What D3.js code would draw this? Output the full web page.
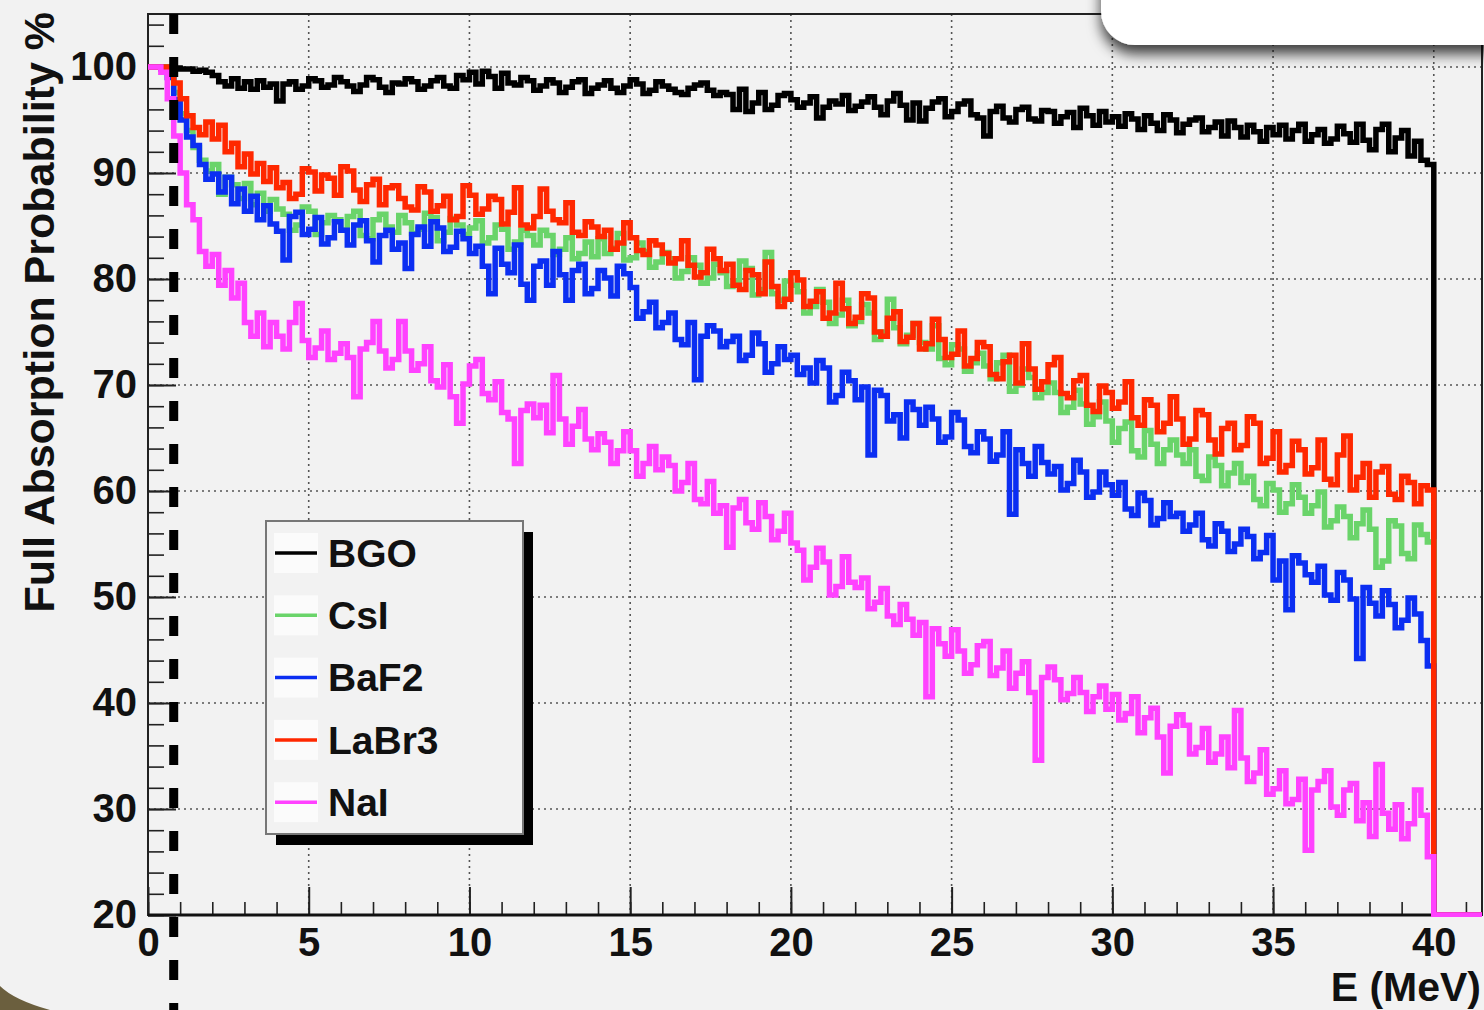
<!DOCTYPE html>
<html>
<head>
<meta charset="utf-8">
<script src="https://cdn.jsdelivr.net/npm/d3@7"></script>
<style>
  body { margin: 0; background: #f2f2f2; }
  text { font-family: "Liberation Sans", Arial, Helvetica, sans-serif; font-weight: bold; fill: #111; }
</style>
</head>
<body>
<script>
// histogram bins: 0.2 MeV wide, 0 -> 40 MeV (200 bins per detector)
var binWidth = 0.2;

var bgo = [
  100, 100, 100, 100, 99.9, 99.8, 99.8, 99.6, 99.7, 99.5,
  99.2, 98.6, 98.2, 98.9, 98.0, 98.6, 97.9, 98.7, 98.1, 98.4,
  96.8, 98.4, 98.6, 97.9, 98.2, 98.9, 98.7, 98.1, 98.3, 99.0,
  98.6, 98.2, 97.7, 98.3, 99.0, 98.8, 98.1, 97.6, 98.5, 98.4,
  98.9, 98.6, 97.9, 98.2, 98.7, 99.0, 98.2, 98.0, 99.2, 98.8,
  99.5, 98.4, 99.6, 99.1, 98.0, 99.4, 98.5, 98.3, 99.0, 98.7,
  97.8, 98.2, 98.8, 98.5, 97.6, 98.1, 98.6, 98.8, 97.5, 98.0,
  98.3, 98.7, 98.0, 97.6, 98.2, 98.8, 98.4, 97.5, 97.8, 98.6,
  98.2, 97.9, 97.6, 97.4, 98.0, 98.3, 98.5, 97.8, 97.3, 97.6,
  97.4, 96.0, 97.9, 95.8, 96.6, 97.6, 96.0, 96.4, 97.3, 97.5,
  96.9, 96.2, 96.6, 97.2, 95.2, 96.2, 96.8, 96.5, 97.3, 95.9,
  96.3, 96.7, 97.2, 96.2, 95.5, 96.8, 97.5, 96.4, 95.0, 96.6,
  94.9, 96.1, 96.7, 97.0, 95.3, 95.8, 96.5, 96.8, 95.5, 95.2,
  93.5, 95.8, 96.3, 95.2, 94.8, 96.0, 96.2, 95.1, 94.9, 95.9,
  95.8, 94.7, 95.3, 95.7, 94.3, 96.1, 95.4, 94.5, 95.8, 94.8,
  95.3, 94.4, 95.6, 95.1, 94.1, 95.4, 94.7, 94.0, 95.5, 95.0,
  93.8, 94.6, 95.0, 95.2, 93.9, 94.3, 94.8, 93.5, 94.9, 94.3,
  93.4, 94.5, 93.9, 93.0, 94.3, 93.6, 94.5, 93.2, 94.0, 94.6,
  93.0, 93.6, 94.1, 92.8, 93.2, 94.4, 93.7, 92.9, 94.6, 93.1,
  92.2, 94.1, 94.6, 92.0, 93.3, 94.0, 91.6, 93.0, 91.2, 90.8
];

var csi = [
  100, 100, 100, 99.6, 97.6, 95.6, 94.0, 92.4, 91.2, 90.2,
  90.8, 88.0, 89.6, 88.9, 87.6, 89.0, 87.0, 88.1, 86.4, 87.5,
  86.6, 86.1, 84.6, 85.1, 86.8, 86.4, 84.2, 85.3, 86.0, 85.6,
  84.6, 85.9, 86.4, 84.1, 83.8, 85.6, 86.1, 84.9, 84.4, 86.0,
  85.3, 84.3, 84.7, 86.2, 85.8, 83.6, 84.4, 85.7, 85.1, 84.2,
  84.8, 85.5, 83.4, 83.9, 85.1, 84.7, 82.8, 83.5, 84.6, 84.1,
  83.2, 84.6, 84.1, 82.3, 82.8, 83.9, 81.9, 82.4, 83.5, 82.1,
  83.8, 82.4, 82.9, 84.3, 81.8, 82.0, 83.4, 82.6, 81.1, 81.6,
  82.5, 81.9, 80.1, 80.7, 82.0, 81.3, 79.6, 80.1, 81.4, 80.6,
  79.3, 79.8, 81.7, 81.0, 78.5, 79.0, 82.5, 78.6, 78.0, 79.8,
  79.4, 78.8, 76.8, 77.4, 79.0, 77.8, 75.8, 76.6, 78.0, 75.6,
  76.0, 77.6, 76.8, 74.3, 75.0, 78.1, 75.4, 73.9, 74.7, 75.8,
  74.0, 73.4, 75.6, 72.5, 71.9, 73.8, 73.4, 71.3, 72.1, 73.0,
  71.8, 70.6, 72.1, 72.8, 69.4, 70.0, 71.5, 70.7, 68.8, 69.3,
  70.2, 69.3, 67.4, 67.9, 69.5, 68.2, 66.3, 67.0, 68.4, 66.6,
  64.6, 65.9, 66.5, 63.8, 63.2, 65.7, 64.4, 62.6, 63.9, 64.8,
  63.4, 62.6, 63.9, 61.4, 61.0, 63.2, 62.4, 60.5, 61.7, 62.6,
  60.8, 61.4, 59.2, 58.6, 60.7, 60.1, 58.0, 58.8, 60.6, 59.4,
  57.9, 58.6, 59.9, 56.6, 57.2, 58.5, 57.6, 55.6, 56.9, 58.2,
  56.4, 52.8, 53.4, 57.2, 56.7, 54.1, 53.6, 56.8, 55.9, 55.2
];

var baf2 = [
  100, 100, 99.8, 99.0, 96.9, 95.0, 93.4, 92.6, 90.8, 89.4,
  89.9, 88.2, 89.6, 87.1, 88.5, 86.4, 87.8, 85.6, 86.9, 85.2,
  84.5, 81.8, 85.9, 86.3, 84.2, 84.7, 85.8, 83.3, 83.9, 85.4,
  84.6, 83.2, 85.1, 85.5, 83.6, 81.6, 84.1, 84.6, 82.8, 83.4,
  81.0, 84.2, 84.9, 83.1, 85.4, 84.8, 82.6, 83.0, 84.5, 83.8,
  82.4, 83.1, 81.2, 78.6, 82.9, 81.4, 80.6, 83.2, 79.5, 78.0,
  81.2, 81.7, 79.4, 82.6, 80.4, 78.0, 80.8, 81.4, 78.6, 79.1,
  80.8, 80.1, 78.4, 81.2, 80.5, 79.2, 76.3, 76.9, 77.8, 75.4,
  75.9, 76.8, 74.3, 73.8, 75.9, 70.5, 74.6, 75.6, 75.1, 73.6,
  74.1, 74.6, 72.3, 72.8, 74.9, 73.9, 71.2, 72.0, 73.6, 72.4,
  72.8, 71.0, 71.6, 70.2, 72.3, 71.6, 68.4, 69.0, 71.2, 70.4,
  68.6, 69.8, 63.4, 69.5, 69.0, 66.6, 67.2, 65.0, 68.4, 67.7,
  66.2, 67.9, 66.8, 64.6, 65.1, 67.4, 66.7, 64.2, 63.6, 65.6,
  64.9, 62.8, 63.4, 65.6, 57.8, 63.9, 62.6, 61.4, 64.2, 62.7,
  61.6, 62.3, 60.1, 60.7, 62.9, 61.8, 59.4, 59.9, 61.8, 60.6,
  59.6, 60.8, 58.3, 57.7, 59.8, 59.1, 56.8, 57.4, 58.9, 57.6,
  57.9, 56.2, 56.8, 57.9, 55.4, 54.8, 56.9, 56.2, 54.3, 55.0,
  56.4, 55.7, 53.6, 54.2, 55.8, 51.6, 53.4, 48.8, 53.9, 53.2,
  52.1, 51.4, 52.9, 50.2, 49.7, 52.3, 51.6, 49.8, 44.2, 50.9,
  49.4, 48.2, 50.6, 49.3, 47.1, 47.8, 49.9, 48.4, 45.9, 43.5
];

var labr3 = [
  100, 100, 100, 99.8, 98.5, 97.0, 95.4, 94.3, 93.6, 94.8,
  93.2, 94.5, 92.0, 92.8, 90.6, 91.8, 89.9, 90.9, 89.2, 90.5,
  88.6, 89.1, 87.6, 88.0, 90.4, 90.1, 88.3, 89.8, 89.5, 87.9,
  90.6, 90.2, 88.4, 87.3, 88.9, 89.4, 87.0, 88.6, 88.8, 87.6,
  86.8, 86.5, 88.7, 88.2, 86.4, 86.9, 87.8, 85.6, 85.9, 88.8,
  87.9, 86.1, 86.6, 87.8, 87.5, 85.2, 86.3, 88.6, 85.1, 84.8,
  85.9, 88.5, 86.4, 85.6, 85.3, 87.2, 84.4, 84.1, 85.4, 84.9,
  84.0, 84.6, 82.8, 83.4, 85.3, 83.9, 82.7, 82.3, 83.6, 83.2,
  82.4, 81.5, 81.9, 83.6, 81.3, 80.2, 80.6, 82.8, 81.9, 80.8,
  81.4, 79.4, 79.0, 80.8, 80.4, 78.6, 81.6, 79.3, 77.4, 78.1,
  80.6, 79.9, 77.4, 77.9, 78.8, 76.3, 76.8, 79.6, 77.2, 75.8,
  76.4, 78.6, 78.2, 75.0, 74.6, 76.3, 76.9, 74.1, 74.5, 75.8,
  73.4, 73.9, 76.2, 74.3, 72.6, 72.9, 75.1, 71.8, 72.5, 74.0,
  73.6, 71.0, 70.6, 72.2, 72.8, 70.2, 73.9, 71.5, 69.6, 70.3,
  71.9, 72.6, 69.2, 68.8, 70.4, 70.9, 68.1, 67.5, 69.9, 69.3,
  67.8, 68.4, 70.3, 66.9, 66.2, 68.6, 68.1, 65.6, 66.4, 68.9,
  66.8, 64.4, 64.9, 67.6, 67.2, 64.8, 63.5, 65.9, 66.4, 63.9,
  64.3, 67.0, 66.4, 62.6, 63.1, 65.6, 61.8, 62.4, 64.7, 63.9,
  61.6, 62.2, 64.8, 61.1, 60.6, 63.4, 65.2, 60.1, 61.3, 62.6,
  59.4, 61.8, 62.3, 59.7, 59.2, 61.4, 60.8, 58.8, 60.5, 60.1
];

var nai = [
  100, 100, 99.5, 97.0, 93.5, 90.0, 87.0, 85.6, 82.6, 81.2,
  82.3, 79.4, 80.8, 78.2, 79.6, 75.9, 74.6, 76.8, 73.6, 75.9,
  74.6, 73.4, 75.9, 77.7, 74.2, 72.6, 73.5, 75.1, 72.4, 73.0,
  73.9, 72.6, 68.9, 73.4, 74.0, 76.0, 73.2, 71.6, 72.4, 76.0,
  73.2, 71.4, 72.0, 73.6, 70.4, 69.8, 71.9, 68.9, 66.4, 70.1,
  71.8, 72.4, 69.2, 68.6, 70.3, 67.4, 66.8, 62.6, 67.6, 68.2,
  66.9, 68.1, 65.5, 70.9, 66.8, 64.4, 66.1, 67.7, 64.9, 63.9,
  65.4, 64.6, 62.6, 63.8, 65.6, 63.8, 61.4, 62.6, 64.2, 62.0,
  63.2, 62.4, 60.0, 60.8, 62.6, 59.2, 58.8, 60.9, 57.9, 58.6,
  54.7, 58.4, 59.2, 57.0, 56.4, 58.9, 57.6, 55.4, 56.2, 57.9,
  55.1, 54.4, 51.6, 52.8, 54.6, 53.3, 50.2, 51.0, 53.8, 51.4,
  50.9, 51.8, 48.9, 49.5, 50.8, 48.2, 47.4, 49.3, 47.9, 46.4,
  47.6, 40.6, 47.0, 45.6, 44.4, 46.9, 44.9, 42.8, 43.6, 45.4,
  45.8, 42.6, 43.3, 44.9, 41.4, 42.8, 43.9, 41.0, 34.6, 42.4,
  43.4, 42.2, 40.3, 40.9, 42.4, 41.0, 39.2, 40.6, 41.6, 39.4,
  40.8, 38.4, 39.0, 40.6, 37.2, 38.6, 39.5, 36.8, 33.4, 37.8,
  38.9, 37.9, 35.2, 35.8, 37.6, 34.4, 35.2, 36.8, 33.9, 39.3,
  34.8, 32.6, 33.4, 35.6, 31.4, 31.9, 33.6, 30.5, 30.9, 32.8,
  26.1, 31.8, 32.6, 33.6, 30.2, 29.4, 31.8, 32.4, 28.9, 30.6,
  27.4, 34.2, 29.6, 28.1, 30.4, 27.2, 28.6, 31.8, 29.4, 25.5
];

var detectorNames = ["BGO", "CsI", "BaF2", "LaBr3", "NaI"];
var detectorColors = ["#000000", "#6ad46a", "#0b2ef2", "#ff2800", "#ff42ff"];
var detectorValues = [bgo, csi, baf2, labr3, nai];

var xMajorTicks = [0, 5, 10, 15, 20, 25, 30, 35, 40];
var yMajorTicks = [20, 30, 40, 50, 60, 70, 80, 90, 100];
var cutEnergy = 0.8;      // dashed threshold line (MeV)
var emptyAbove = 0;       // bins above 40 MeV are empty

var xTitle = "E (MeV)";
var yTitle = "Full Absorption Probability %";

var W = 1484, H = 1010;
var frame = {left: 148, right: 1482, top: 14, bottom: 915};

var svg = d3.select("body").append("svg")
    .attr("width", W)
    .attr("height", H)
    .style("display", "block");

svg.append("rect").attr("width", W).attr("height", H).attr("fill", "#f2f2f2");

var x = d3.scaleLinear().domain([0, 41.5]).range([frame.left, frame.right]);
var y = d3.scaleLinear().domain([20, 105]).range([frame.bottom, frame.top]).clamp(true);

var defs = svg.append("defs");
defs.append("clipPath").attr("id", "plotclip")
  .append("rect")
    .attr("x", frame.left).attr("y", frame.top - 2)
    .attr("width", frame.right - frame.left).attr("height", frame.bottom - frame.top + 4);

var shadow = defs.append("filter").attr("id", "boxshadow")
    .attr("x", "-20%").attr("y", "-50%").attr("width", "140%").attr("height", "250%");
shadow.append("feDropShadow")
    .attr("dx", 0).attr("dy", 9).attr("stdDeviation", 7)
    .attr("flood-color", "#000").attr("flood-opacity", 0.75);

// grid
var grid = svg.append("g").attr("stroke", "#555").attr("stroke-width", 1.6)
    .attr("stroke-dasharray", "2,4");
grid.selectAll("line.gx")
  .data(xMajorTicks.filter(function(d) { return d > 0; }))
  .enter().append("line")
    .attr("x1", function(d) { return x(d); }).attr("x2", function(d) { return x(d); })
    .attr("y1", frame.top).attr("y2", frame.bottom);
grid.selectAll("line.gy")
  .data(yMajorTicks.filter(function(d) { return d > 20; }))
  .enter().append("line")
    .attr("x1", frame.left).attr("x2", frame.right)
    .attr("y1", function(d) { return y(d); }).attr("y2", function(d) { return y(d); });

// axes
var xMinorAxis = d3.axisBottom(x).tickValues(d3.range(0, 42, 1))
    .tickSizeInner(-13).tickSizeOuter(0).tickFormat("");
var xAxis = d3.axisBottom(x).tickValues(xMajorTicks)
    .tickSizeInner(-28).tickSizeOuter(0).tickPadding(13).tickFormat(d3.format("d"));
var yMinorAxis = d3.axisLeft(y).tickValues(d3.range(20, 106, 2))
    .tickSizeInner(-16).tickSizeOuter(0).tickFormat("");
var yAxis = d3.axisLeft(y).tickValues(yMajorTicks)
    .tickSizeInner(-28).tickSizeOuter(0).tickPadding(11).tickFormat(d3.format("d"));

function styleAxis(g, w) {
  g.select(".domain").remove();
  g.selectAll(".tick line").attr("stroke", "#222").attr("stroke-width", w);
  g.selectAll(".tick text").attr("font-size", 40)
    .attr("font-family", "Liberation Sans, Arial, sans-serif").attr("font-weight", "bold").attr("fill", "#111");
}

svg.append("g").attr("transform", "translate(0," + frame.bottom + ")").call(xMinorAxis).call(styleAxis, 1.6);
svg.append("g").attr("transform", "translate(0," + frame.bottom + ")").call(xAxis).call(styleAxis, 2);
svg.append("g").attr("transform", "translate(" + frame.left + ",0)").call(yMinorAxis).call(styleAxis, 1.6);
svg.append("g").attr("transform", "translate(" + frame.left + ",0)").call(yAxis).call(styleAxis, 2);

// frame
svg.append("rect")
    .attr("x", frame.left).attr("y", frame.top)
    .attr("width", frame.right - frame.left).attr("height", frame.bottom - frame.top)
    .attr("fill", "none").attr("stroke", "#222").attr("stroke-width", 2);
svg.append("line")
    .attr("x1", frame.left).attr("x2", frame.right)
    .attr("y1", frame.bottom).attr("y2", frame.bottom)
    .attr("stroke", "#111").attr("stroke-width", 3);

// histograms
var line = d3.line()
    .x(function(d) { return x(d[0]); })
    .y(function(d) { return y(d[1]); })
    .curve(d3.curveStepAfter);

var histG = svg.append("g").attr("clip-path", "url(#plotclip)");
detectorValues.forEach(function(vals, k) {
  var pts = vals.map(function(v, i) { return [i * binWidth, v]; });
  pts.push([vals.length * binWidth, emptyAbove]);
  pts.push([x.domain()[1], emptyAbove]);
  histG.append("path")
      .attr("d", line(pts))
      .attr("fill", "none")
      .attr("stroke", detectorColors[k])
      .attr("stroke-width", 5.5)
      .attr("stroke-linejoin", "miter");
});

// legend
var lg = {x: 266, y: 521, w: 257, h: 313, row: 62.3, first: 32};
svg.append("rect")
    .attr("x", lg.x + 10).attr("y", lg.y + 11)
    .attr("width", lg.w).attr("height", lg.h)
    .attr("fill", "#000");
svg.append("rect")
    .attr("x", lg.x).attr("y", lg.y)
    .attr("width", lg.w).attr("height", lg.h)
    .attr("fill", "#f2f2f2").attr("stroke", "#777").attr("stroke-width", 2);

var entries = svg.append("g").selectAll("g")
  .data(detectorNames)
  .enter().append("g")
    .attr("transform", function(d, i) { return "translate(" + lg.x + "," + (lg.y + lg.first + i * lg.row) + ")"; });
entries.append("rect")
    .attr("x", 8).attr("y", -20).attr("width", 44).attr("height", 40)
    .attr("fill", "#fbfbfb");
entries.append("line")
    .attr("x1", 9).attr("x2", 51).attr("y1", 0).attr("y2", 0)
    .attr("stroke", function(d, i) { return detectorColors[i]; })
    .attr("stroke-width", 3.5);
entries.append("text")
    .attr("x", 62).attr("y", 0).attr("dy", "0.35em")
    .attr("font-size", 39)
    .text(function(d) { return d; });

// dashed threshold
svg.append("line")
    .attr("x1", x(cutEnergy)).attr("x2", x(cutEnergy))
    .attr("y1", frame.top).attr("y2", H)
    .attr("stroke", "#000").attr("stroke-width", 9)
    .attr("stroke-dasharray", "20,23");

// titles
svg.append("text")
    .attr("transform", "translate(54," + 12 + ") rotate(-90)")
    .attr("text-anchor", "end")
    .attr("font-size", 43)
    .text(yTitle);
svg.append("text")
    .attr("x", 1481).attr("y", 1001)
    .attr("text-anchor", "end")
    .attr("font-size", 41)
    .text(xTitle);

// rounded white box at top right (cropped stats pad)
svg.append("rect")
    .attr("x", 1101).attr("y", -60).attr("width", 440).attr("height", 105)
    .attr("rx", 34).attr("ry", 34)
    .attr("fill", "#ffffff")
    .attr("filter", "url(#boxshadow)");

// photo corner bottom-left
svg.append("path")
    .attr("d", "M0,986 Q14,1000 50,1010 L0,1010 Z")
    .attr("fill", "#6b5f3e");
</script>
</body>
</html>
